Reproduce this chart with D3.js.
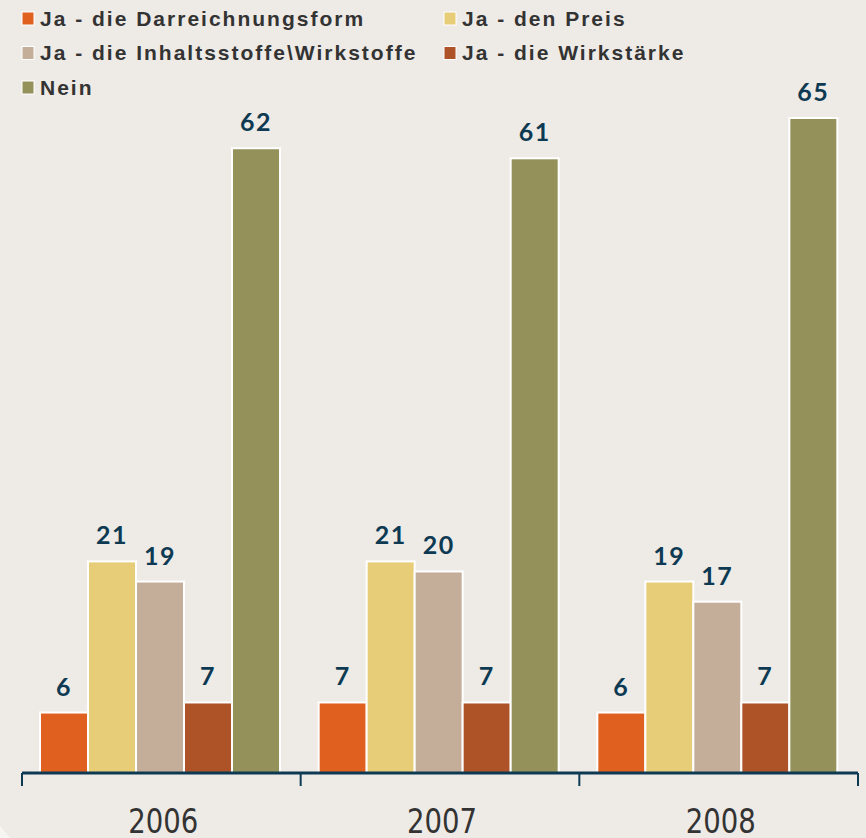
<!DOCTYPE html>
<html>
<head>
<meta charset="utf-8">
<title>Grouped bar chart</title>
<script src="https://cdn.jsdelivr.net/npm/d3@7"></script>
<style>
  html, body { margin:0; padding:0; background:#eeeae6; }
  svg { display:block; }
  .legend text { font: bold 21px "Liberation Sans", Arial, sans-serif; fill:#333; letter-spacing:2px; }
  .val { font: bold 25px Lato, sans-serif; fill:#0d3a52; text-anchor:middle; letter-spacing:1.5px; }
  .year { font: 33px "DejaVu Sans Condensed", "DejaVu Sans", sans-serif; fill:#333; text-anchor:middle; }
</style>
</head>
<body>
<div id="chart"></div>
<script>
var years = ["2006", "2007", "2008"];
var seriesNames = ["Ja - die Darreichnungsform", "Ja - den Preis", "Ja - die Inhaltsstoffe\\Wirkstoffe", "Ja - die Wirkstärke", "Nein"];
var darreichung = [6, 7, 6];
var preis = [21, 21, 19];
var inhalt = [19, 20, 17];
var wirkstaerke = [7, 7, 7];
var nein = [62, 61, 65];
var colors = ["#e06020", "#e8cd78", "#c4ae9a", "#ae5228", "#94925a"];

var allValues = [darreichung, preis, inhalt, wirkstaerke, nein];

var width = 866, height = 838;
var svg = d3.select("#chart").append("svg")
  .attr("width", width)
  .attr("height", height);

svg.append("rect").attr("width", width).attr("height", height).attr("fill", "#eeeae6");
// lighter corner bottom left
svg.append("path").attr("d", "M0,826 L0,838 L10,838 Z").attr("fill", "#f7f5f2");

// x: groups, then bars inside a group
var x0 = d3.scaleBand().domain(years).range([22, 858]);
var x1 = d3.scaleBand().domain(seriesNames).range([18, 258]);
var y = d3.scaleLinear().domain([0, 65]).range([773, 118]);

var groups = svg.selectAll(".grp")
  .data(years)
  .enter().append("g")
  .attr("class", "grp")
  .attr("transform", function(d){ return "translate(" + x0(d) + ",0)"; });

var bars = groups.selectAll(".bar")
  .data(function(d, i){ return seriesNames.map(function(s, j){ return {name:s, value:allValues[j][i], c:colors[j]}; }); })
  .enter();

bars.append("rect")
  .attr("x", function(d){ return x1(d.name); })
  .attr("y", function(d){ return y(d.value); })
  .attr("width", x1.bandwidth())
  .attr("height", function(d){ return y(0) - y(d.value); })
  .attr("fill", function(d){ return d.c; })
  .attr("stroke", "#fff")
  .attr("stroke-width", 2);

bars.append("text")
  .attr("class", "val")
  .attr("x", function(d){ return x1(d.name) + x1.bandwidth()/2; })
  .attr("y", function(d){ return y(d.value) - 17; })
  .text(function(d){ return d.value; });

// axis with ticks at group borders
var axis = svg.append("g");
axis.append("line")
  .attr("x1", 22).attr("x2", 858).attr("y1", 773).attr("y2", 773)
  .attr("stroke", "#0d3a52").attr("stroke-width", 3);
var tickPos = years.map(function(d){ return x0(d); }).concat([x0.range()[1]]);
axis.selectAll(".tick")
  .data(tickPos)
  .enter().append("line")
  .attr("x1", function(d){ return d; }).attr("x2", function(d){ return d; })
  .attr("y1", 773).attr("y2", 786)
  .attr("stroke", "#0d3a52").attr("stroke-width", 2);

svg.selectAll(".year")
  .data(years)
  .enter().append("text")
  .attr("class", "year")
  .attr("x", function(d){ return x0(d) + x0.bandwidth()/2 + 2; })
  .attr("y", 833)
  .attr("textLength", 70)
  .attr("lengthAdjust", "spacingAndGlyphs")
  .text(function(d){ return d; });

// legend, two columns
var legend = svg.selectAll(".legend")
  .data(seriesNames)
  .enter().append("g")
  .attr("class", "legend")
  .attr("transform", function(d, i){
    var lx = (i % 2 === 0) ? 22 : 444;
    var ly = 12 + Math.floor(i / 2) * 34.5;
    return "translate(" + lx + "," + ly + ")";
  });
legend.append("rect")
  .attr("width", 12).attr("height", 13)
  .attr("fill", function(d, i){ return colors[i]; })
  .attr("stroke", "#fff").attr("stroke-width", 1);
legend.append("text")
  .attr("x", 18)
  .attr("y", 13.5)
  .text(function(d){ return d; });
</script>
</body>
</html>
